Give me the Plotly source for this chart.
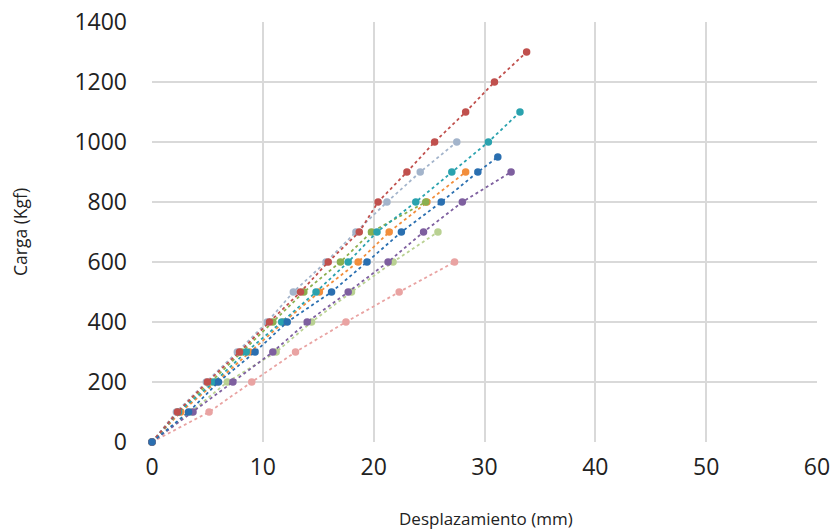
import plotly.graph_objects as go

loads_red = [0, 100, 200, 300, 400, 500, 600, 700, 800, 900, 1000, 1100, 1200, 1300]
disp_red = [0, 2.3, 5.0, 7.9, 10.6, 13.4, 15.9, 18.7, 20.4, 23.0, 25.5, 28.3, 30.9, 33.8]

loads_gray = [0, 100, 200, 300, 400, 500, 600, 700, 800, 900, 1000]
disp_gray = [0, 2.2, 4.9, 7.7, 10.4, 12.75, 15.7, 18.4, 21.2, 24.2, 27.5]

loads_teal = [0, 100, 200, 300, 400, 500, 600, 700, 800, 900, 1000, 1100]
disp_teal = [0, 2.4, 5.6, 8.5, 11.7, 14.8, 17.7, 20.3, 23.8, 27.05, 30.35, 33.2]

loads_green = [0, 100, 200, 300, 400, 500, 600, 700, 800]
disp_green = [0, 2.3, 5.3, 8.1, 10.9, 13.7, 17.0, 19.8, 24.7]

loads_orange = [0, 100, 200, 300, 400, 500, 600, 700, 800, 900]
disp_orange = [0, 2.6, 5.8, 8.8, 11.9, 15.1, 18.6, 21.4, 24.8, 28.3]

loads_blue = [0, 100, 200, 300, 400, 500, 600, 700, 800, 900, 950]
disp_blue = [0, 3.3, 6.0, 9.3, 12.2, 16.2, 19.4, 22.5, 26.1, 29.4, 31.2]

loads_purple = [0, 100, 200, 300, 400, 500, 600, 700, 800, 900]
disp_purple = [0, 3.7, 7.3, 10.9, 14.0, 17.7, 21.3, 24.5, 28.0, 32.4]

loads_lgreen = [0, 100, 200, 300, 400, 500, 600, 700]
disp_lgreen = [0, 3.5, 6.8, 11.2, 14.4, 18.0, 21.75, 25.8]

loads_pink = [0, 100, 200, 300, 400, 500, 600]
disp_pink = [0, 5.15, 9.0, 12.95, 17.5, 22.3, 27.3]

x_ticks = [0, 10, 20, 30, 40, 50, 60]
y_ticks = [0, 200, 400, 600, 800, 1000, 1200, 1400]

x_title = "Desplazamiento (mm)"
y_title = "Carga (Kgf)"

series = [
    ("pink", disp_pink, loads_pink, "#E9A3A2"),
    ("lgreen", disp_lgreen, loads_lgreen, "#B9D192"),
    ("purple", disp_purple, loads_purple, "#7E5F9F"),
    ("orange", disp_orange, loads_orange, "#F28E3C"),
    ("green", disp_green, loads_green, "#8BAF4E"),
    ("teal", disp_teal, loads_teal, "#2AA2AE"),
    ("gray", disp_gray, loads_gray, "#A3B4CB"),
    ("red", disp_red, loads_red, "#C0504D"),
    ("blue", disp_blue, loads_blue, "#2A6FB0"),
]

fig = go.Figure()
for name, xs, ys, col in series:
    fig.add_trace(go.Scatter(
        x=xs, y=ys, name=name, mode="lines+markers",
        line=dict(color=col, width=1.8, dash="dot"),
        marker=dict(color=col, size=7.5),
        showlegend=False,
        cliponaxis=False,
    ))

fig.update_layout(
    width=830, height=531,
    margin=dict(l=152, r=13, t=22, b=89),
    paper_bgcolor="white", plot_bgcolor="white",
    font=dict(family="Open Sans", color="#222222"),
    annotations=[
        dict(text=x_title, xref="paper", yref="paper", x=0.502, y=-0.181,
             showarrow=False, xanchor="center", yanchor="middle",
             font=dict(size=17, color="#222222")),
        dict(text=y_title, xref="paper", yref="paper", x=-0.1985, y=0.5,
             showarrow=False, xanchor="center", yanchor="middle", textangle=-90,
             font=dict(size=17.5, color="#222222")),
    ],
)
fig.update_xaxes(
    range=[0, 60], tickvals=x_ticks, showgrid=True, gridcolor="#D9D9D9", gridwidth=1.5,
    zeroline=False, showline=False, ticks="", tickfont=dict(size=23),
    ticklabelstandoff=9, automargin=False, ticklabeloverflow="allow",
)
fig.update_yaxes(
    range=[0, 1400], tickvals=y_ticks, showgrid=True, gridcolor="#D9D9D9", gridwidth=1.5,
    zeroline=False, showline=False, ticks="", tickfont=dict(size=23),
    ticklabelstandoff=24, automargin=False, ticklabeloverflow="allow",
)

fig.write_html(
    "out.html",
    config={"displayModeBar": False},
    post_script="document.body.style.margin='0';document.body.style.overflow='hidden';",
)
